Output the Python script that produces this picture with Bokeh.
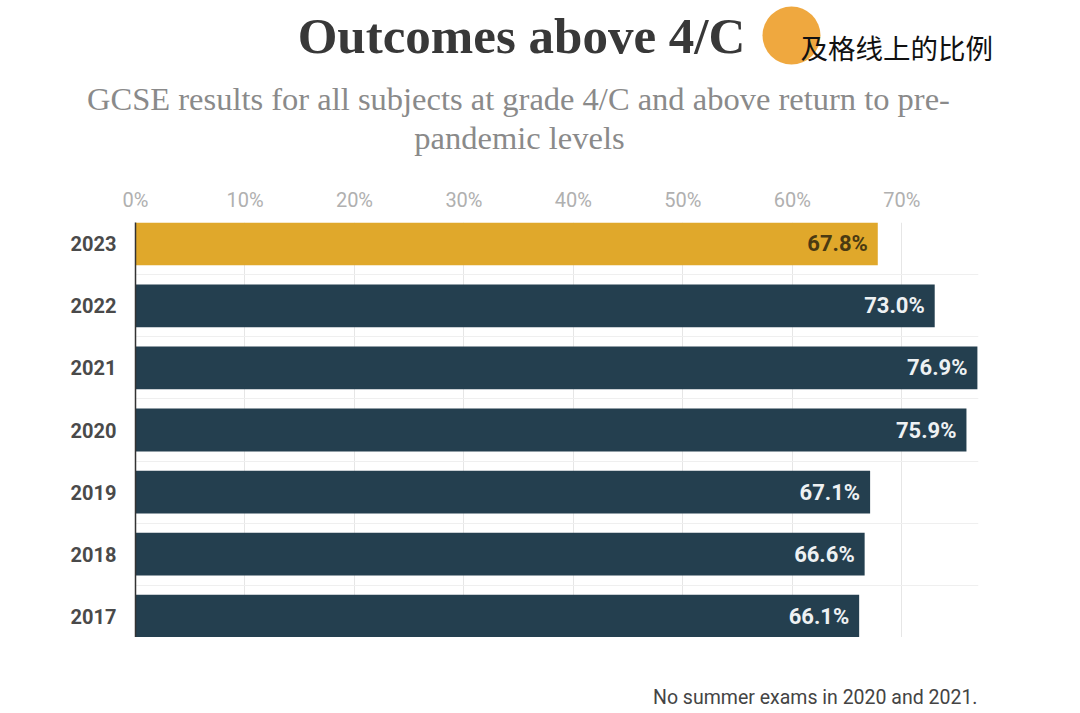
from bokeh.plotting import figure
from bokeh.models import ColumnDataSource, Range1d, FixedTicker
from bokeh.layouts import column
from bokeh.core.properties import value
from bokeh.embed import file_html
from bokeh.resources import INLINE

# ---------------- data ----------------
years = ["2023", "2022", "2021", "2020", "2019", "2018", "2017"]
pass_rates = [67.8, 73.0, 76.9, 75.9, 67.1, 66.6, 66.1]
bar_colors = ["#E0A82B", "#243F4F", "#243F4F", "#243F4F", "#243F4F", "#243F4F", "#243F4F"]
label_colors = ["#4A3A12", "#EEF1F3", "#EEF1F3", "#EEF1F3", "#EEF1F3", "#EEF1F3", "#EEF1F3"]
x_ticks = [0, 10, 20, 30, 40, 50, 60, 70]
x_tick_labels = ["0%", "10%", "20%", "30%", "40%", "50%", "60%", "70%"]

title_text = "Outcomes above 4/C"
subtitle_lines = ["GCSE results for all subjects at grade 4/C and above return to pre-",
                  "pandemic levels"]
badge_text = "及格线上的比例"
footnote_text = "No summer exams in 2020 and 2021."

W = 1064
H_HEAD, H_CHART, H_FOOT = 178, 459, 72
LEFT, RIGHT = 135, 978   # chart frame edges in pixels


def blank(h, left, right):
    f = figure(width=W, height=h, x_range=Range1d(left, right), y_range=Range1d(h, 0),
               x_axis_location=None, y_axis_location=None, toolbar_location=None,
               output_backend="svg", min_border=0,
               min_border_left=left, min_border_right=W - right)
    f.grid.visible = False
    f.outline_line_color = None
    f.background_fill_color = "white"
    f.border_fill_color = "white"
    return f


# ---------------- header (own column, full-width frame) ----------------
head = blank(H_HEAD, 0, W)
head.text(x=[521], y=[35], text=[title_text], text_align="center", text_baseline="middle",
          text_font=value("Liberation Serif"), text_font_style="bold",
          text_font_size="51px", text_color="#383838")
head.scatter(x=[791], y=[35], size=58, marker="circle", fill_color="#EFA83F", line_color=None)
head.text(x=[800], y=[46], text=[badge_text], text_align="left", text_baseline="middle",
          text_font=value("Noto Sans CJK SC"), text_font_size="27.5px", text_color="#111111")
head.text(x=[518, 519], y=[98, 137], text=subtitle_lines, text_align="center",
          text_baseline="middle", text_font=value("Liberation Serif"),
          text_font_size="32.5px", text_color="#8A8A8A")

# ---------------- chart ----------------
n = len(years)
ypos = [n - 1 - i for i in range(n)]
src = ColumnDataSource(dict(y=ypos, v=pass_rates, color=bar_colors, lc=label_colors,
                            lbl=[f"{v:.1f}%" for v in pass_rates]))

p = figure(width=W, height=H_CHART, x_range=Range1d(0, 77),
           y_range=Range1d(-0.345, n - 1 + 0.345),
           x_axis_location="above", toolbar_location=None, output_backend="svg",
           min_border_left=LEFT, min_border_right=W - RIGHT, min_border_top=44,
           min_border_bottom=0)
p.outline_line_color = None
p.background_fill_color = "white"
p.border_fill_color = "white"

p.hbar(y="y", right="v", left=0, height=0.69, fill_color="color", line_color=None, source=src)
p.text(x="v", y="y", text="lbl", x_offset=-10, text_align="right", text_baseline="middle",
       text_font=value("Roboto"), text_font_style="bold", text_font_size="22px",
       text_color="lc", source=src)

xa = p.xaxis[0]
xa.ticker = FixedTicker(ticks=x_ticks)
xa.major_label_overrides = {t: l for t, l in zip(x_ticks, x_tick_labels)}
xa.axis_line_color = None
xa.major_tick_line_color = None
xa.minor_tick_line_color = None
xa.major_label_text_font = "Roboto"
xa.major_label_text_font_size = "20px"
xa.major_label_text_color = "#B0B0B0"
xa.major_label_standoff = 5

ya = p.yaxis[0]
ya.ticker = FixedTicker(ticks=ypos)
ya.major_label_overrides = {yy: yr for yy, yr in zip(ypos, years)}
ya.axis_line_color = "#333333"
ya.axis_line_width = 1.5
ya.major_tick_line_color = None
ya.minor_tick_line_color = None
ya.major_label_text_font = "Roboto"
ya.major_label_text_font_style = "bold"
ya.major_label_text_font_size = "20px"
ya.major_label_text_color = "#4A4A4A"
ya.major_label_standoff = 13

p.xgrid.ticker = FixedTicker(ticks=x_ticks)
p.xgrid.grid_line_color = "#E6E6E6"
p.ygrid.ticker = FixedTicker(ticks=[k + 0.5 for k in range(n - 1)])
p.ygrid.grid_line_color = "#EFEFEF"

# ---------------- footer (aligned with chart frame) ----------------
foot = blank(H_FOOT, LEFT, RIGHT)
foot.text(x=[977], y=[60], text=[footnote_text], text_align="right", text_baseline="middle",
          text_font=value("Roboto"), text_font_size="19.5px", text_color="#444444")

layout = column(column(head), column(p, foot, spacing=0), spacing=0)
open("out.html", "w").write(file_html(layout, INLINE))
